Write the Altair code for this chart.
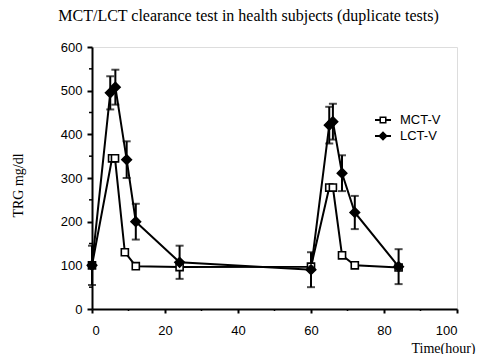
import altair as alt
import pandas as pd

# ---- data ----
series_names = ["MCT-V", "LCT-V"]
time_mct = [0, 5.5, 6.3, 9, 12, 24, 60, 65, 66, 68.5, 72, 84]
trg_mct = [100, 345, 345, 130, 98, 96, 97, 278, 278, 123, 100, 95]
time_lct = [0, 5, 6.4, 9.5, 12, 24, 60, 65, 66, 68.5, 72, 84]
trg_lct = [100, 495, 508, 342, 200, 107, 90, 421, 429, 311, 221, 97]
err_lct = [45, 38, 40, 42, 41, 38, 40, 42, 41, 41, 38, 40]

x_major = [0, 20, 40, 60, 80, 100]
x_minor = [10, 30, 50, 70, 90]
y_major = [0, 100, 200, 300, 400, 500, 600]
y_minor = [50, 150, 250, 350, 450, 550]

df = pd.concat([
    pd.DataFrame({"t": time_mct, "v": trg_mct, "s": series_names[0]}),
    pd.DataFrame({"t": time_lct, "v": trg_lct, "s": series_names[1]}),
], ignore_index=True)
err = pd.DataFrame({"t": time_lct, "v": trg_lct, "e": err_lct})
err["lo"] = err["v"] - err["e"]
err["hi"] = err["v"] + err["e"]

W, H = 365, 262
xs = alt.Scale(domain=[0, 100], nice=False, zero=False)
ys = alt.Scale(domain=[0, 600], nice=False)

LABEL_FONT = "Liberation Sans"
SERIF = "Liberation Serif"

xaxis = alt.Axis(values=x_major, title="Time(hour)", grid=False, labelFont=LABEL_FONT,
                 labelFontSize=13, labelColor="black", labelPadding=11, tickSize=4, tickWidth=2,
                 tickColor="black", domainColor="black", domainWidth=2,
                 titleFont=SERIF, titleFontSize=14, titleFontWeight="normal", titleColor="black",
                 titleX=383, titleY=39, titleAlign="right", titleBaseline="middle")
yaxis = alt.Axis(values=y_major, title="TRG mg/dl", grid=False, labelFont=LABEL_FONT,
                 labelFontSize=13, labelColor="black", labelPadding=5, tickSize=5, tickWidth=2,
                 tickColor="black", domainColor="black", domainWidth=2,
                 titleFont=SERIF, titleFontSize=14, titleFontWeight="normal", titleColor="black",
                 titleX=-74, titleY=138, titleAngle=-90, titleAlign="center", titleBaseline="middle")

base = alt.Chart(df)

lines = base.mark_line(color="black", strokeWidth=2).encode(
    x=alt.X("t:Q", scale=xs, axis=xaxis),
    y=alt.Y("v:Q", scale=ys, axis=yaxis),
    detail="s:N",
)

bars = alt.Chart(err).mark_rule(color="black", strokeWidth=2).encode(
    x=alt.X("t:Q", scale=xs), y=alt.Y("lo:Q", scale=ys), y2="hi:Q")
caps_lo = alt.Chart(err).mark_tick(color="black", orient="horizontal", size=8, thickness=2).encode(
    x=alt.X("t:Q", scale=xs), y=alt.Y("lo:Q", scale=ys))
caps_hi = alt.Chart(err).mark_tick(color="black", orient="horizontal", size=8, thickness=2).encode(
    x=alt.X("t:Q", scale=xs), y=alt.Y("hi:Q", scale=ys))

points = base.mark_point(filled=False, stroke="black", strokeWidth=1.6, opacity=1).encode(
    x=alt.X("t:Q", scale=xs),
    y=alt.Y("v:Q", scale=ys),
    shape=alt.Shape("s:N", scale=alt.Scale(domain=series_names, range=["square", "diamond"]), legend=None),
    fill=alt.Fill("s:N", scale=alt.Scale(domain=series_names, range=["white", "black"]), legend=None),
    size=alt.Size("s:N", scale=alt.Scale(domain=series_names, range=[50, 90]), legend=None),
)

# legend-only layer: no rows drawn, the legend comes from the fixed scale domain.
# Symbols are filled outlines: "-[]-" for MCT-V (hollow square) and "-<>-" for LCT-V.
sym_mct = ("M-1,-0.125H-0.44V0.125H-1Z"
           "M0.44,-0.125H1V0.125H0.44Z"
           "M-0.44,-0.44H0.44V0.44H-0.44Z"
           "M-0.25,-0.25V0.25H0.25V-0.25Z")
sym_lct = ("M-1,-0.125H1V0.125H-1Z"
           "M0,-0.6L0.6,0L0,0.6L-0.6,0Z")
legend_layer = base.transform_filter("datum.t < -1000").mark_point(
    filled=True, color="black", opacity=1, size=256).encode(
    x=alt.X("t:Q", scale=xs),
    y=alt.Y("v:Q", scale=ys),
    shape=alt.Shape("s:N", scale=alt.Scale(domain=series_names, range=[sym_mct, sym_lct]),
                    legend=alt.Legend(title=None, orient="none", legendX=283, legendY=65,
                                      symbolSize=256, symbolFillColor="black", symbolStrokeWidth=0,
                                      symbolOpacity=1, labelFont=LABEL_FONT, labelFontSize=13,
                                      labelColor="black", labelOffset=9, rowPadding=1)),
)

minor_x = alt.Chart(pd.DataFrame({"t": x_minor})).mark_rule(color="black", strokeWidth=1.5).encode(
    x=alt.X("t:Q", scale=xs), y=alt.value(H), y2=alt.value(H + 2))
minor_y = alt.Chart(pd.DataFrame({"v": y_minor})).mark_rule(color="black", strokeWidth=1.5).encode(
    y=alt.Y("v:Q", scale=ys), x=alt.value(0), x2=alt.value(-3))

chart = alt.layer(lines, bars, caps_lo, caps_hi, points, legend_layer, minor_x, minor_y).resolve_scale(
    shape="independent", fill="independent"
).properties(
    width=W, height=H,
    autosize=alt.AutoSizeParams(type="none"),
    padding={"left": 84, "top": 39, "right": 23, "bottom": 45},
    title=alt.TitleParams("MCT/LCT clearance test in health subjects (duplicate tests)",
                          font=SERIF, fontSize=16, fontWeight="normal", color="black",
                          anchor="middle", frame="group", dx=-26, offset=17),
).configure_view(stroke=None).configure(background="white")

chart.save("out.html", embed_options={"renderer": "svg", "actions": False})
